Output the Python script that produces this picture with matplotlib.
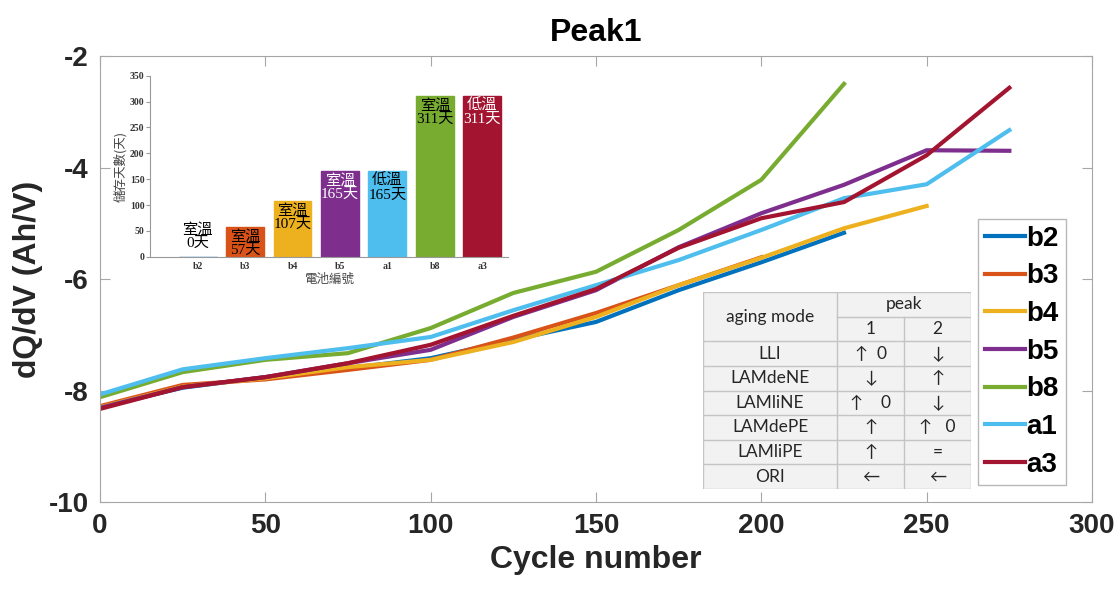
import matplotlib
matplotlib.use("Agg")
import matplotlib.pyplot as plt
from matplotlib.patches import Rectangle

plt.rcParams['axes.unicode_minus'] = False

# ----- main curves (dQ/dV at peak 1 vs cycle) -----
cycles = [0, 25, 50, 75, 100, 125, 150, 175, 200, 225, 250, 275]
b2 = [-8.30, -7.95, -7.76, -7.60, -7.42, -7.09, -6.77, -6.20, -5.70, -5.17]
b3 = [-8.28, -7.90, -7.80, -7.63, -7.45, -7.05, -6.61, -6.11, -5.61]
b4 = [-8.30, -7.93, -7.78, -7.58, -7.45, -7.13, -6.68, -6.11, -5.62, -5.09, -4.69]
b5 = [-8.31, -7.94, -7.76, -7.51, -7.27, -6.68, -6.20, -5.43, -4.82, -4.31, -3.69, -3.70]
b8 = [-8.12, -7.67, -7.45, -7.33, -6.88, -6.25, -5.87, -5.12, -4.22, -2.50]
a1 = [-8.07, -7.62, -7.42, -7.24, -7.04, -6.56, -6.11, -5.66, -5.12, -4.55, -4.30, -3.33]
a3 = [-8.33, -7.94, -7.76, -7.51, -7.18, -6.66, -6.18, -5.44, -4.91, -4.62, -3.78, -2.57]

names = ['b2', 'b3', 'b4', 'b5', 'b8', 'a1', 'a3']
curves = [b2, b3, b4, b5, b8, a1, a3]
colors = {'b2': '#0072BD', 'b3': '#D95319', 'b4': '#EDB120', 'b5': '#7E2F8E',
          'b8': '#77AC30', 'a1': '#4DBEEE', 'a3': '#A2142F'}

# ----- inset bar chart (storage days) -----
cells = ['b2', 'b3', 'b4', 'b5', 'a1', 'b8', 'a3']
days = [0, 57, 107, 165, 165, 311, 311]
temps = ['室溫', '室溫', '室溫', '室溫', '低溫', '室溫', '低溫']

# ----- aging mode table -----
modes = ['LLI', 'LAMdeNE', 'LAMliNE', 'LAMdePE', 'LAMliPE', 'ORI']
peak1 = ['↑  0', '↓', '↑    0', '↑', '↑', '←']
peak2 = ['↓', '↑', '↓', '↑   0', '=', '←']

fig = plt.figure(figsize=(11.2, 5.96), dpi=100)
ax = fig.add_axes([0.0893, 0.1577, 0.8857, 0.7483])

for name, vals in zip(names, curves):
    ax.plot(cycles[:len(vals)], vals, color=colors[name], lw=3, label=name)

ax.set_xlim(0, 300)
ax.set_ylim(-10, -2)
ax.set_xticks(range(0, 301, 50))
ax.set_yticks(range(-10, -1, 2))
for s in ax.spines.values():
    s.set_color('#a6a6a6')
ax.tick_params(direction='in', length=7, top=True, right=True, color='#a6a6a6',
               labelsize=20, labelcolor='#262626', pad=8)
for lbl in ax.get_xticklabels() + ax.get_yticklabels():
    lbl.set_fontweight('bold')
    lbl.set_family('Liberation Sans')
ax.set_xlabel('Cycle number', fontsize=23, fontweight='bold', family='Liberation Sans',
              color='#262626', labelpad=4)
ax.set_ylabel('dQ/dV (Ah/V)', fontsize=23, fontweight='bold', family='Liberation Sans',
              color='#262626', labelpad=4)
ax.set_title('Peak1', fontsize=23, fontweight='bold', family='Liberation Sans', pad=11)

leg = ax.legend(loc='upper left', bbox_to_anchor=(0.885, 0.635), frameon=True,
                fancybox=False, edgecolor='#a6a6a6',
                prop={'family': 'Liberation Sans', 'weight': 'bold', 'size': 20},
                handlelength=1.45, handletextpad=0.05, labelspacing=0.42,
                borderpad=0.25, borderaxespad=0)
leg.get_frame().set_linewidth(1)
for h in leg.get_lines():
    h.set_linewidth(3)

# inset
ax_in = fig.add_axes([0.134, 0.569, 0.32, 0.304])
xpos = list(range(1, len(cells) + 1))
ax_in.bar(xpos, days, width=0.8, color=[colors[c] for c in cells],
          edgecolor=[colors[c] for c in cells], linewidth=1)
ax_in.set_xlim(0, 7.55)
ax_in.set_ylim(0, 350)
ax_in.set_yticks(range(0, 351, 50))
ax_in.set_xticks(xpos)
ax_in.set_xticklabels(cells)
ax_in.spines['top'].set_visible(False)
ax_in.spines['right'].set_visible(False)
ax_in.spines['left'].set_color('#999999')
ax_in.spines['bottom'].set_color('#999999')
ax_in.tick_params(axis='y', direction='out', length=3, color='#999999', labelsize=7, pad=1)
ax_in.tick_params(axis='x', length=0, labelsize=7, pad=4)
for lbl in ax_in.get_xticklabels() + ax_in.get_yticklabels():
    lbl.set_fontweight('bold')
    lbl.set_family('Liberation Serif')
    lbl.set_color('#333333')
ax_in.set_ylabel('儲存天數(天)', family='Noto Sans CJK TC', fontsize=9, color='#444444', labelpad=2)
ax_in.set_xlabel('電池編號', family='Noto Sans CJK TC', fontsize=9, color='#444444', labelpad=1)
for x, d, t, c in zip(xpos, days, temps, cells):
    tc = 'white' if c in ('b5', 'a3') else 'black'
    ytop = d - 5 if d > 20 else 66
    ax_in.text(x, ytop, t + '\n' + str(d) + '天', ha='center', va='top', color=tc,
               fontsize=11, linespacing=1.0, family=['Liberation Serif', 'Noto Sans CJK TC'])

# table
ax_t = fig.add_axes([0.6277, 0.1795, 0.2393, 0.3305])
ax_t.set_xlim(0, 4)
ax_t.set_ylim(8, 0)
ax_t.axis('off')
ax_t.add_patch(Rectangle((0, 0), 4, 8, facecolor='#f2f2f2', edgecolor='none'))
lc = '#c4c4c4'
for r in range(9):
    x0 = 2 if r == 1 else 0
    ax_t.plot([x0, 4], [r, r], color=lc, lw=1)
ax_t.plot([0, 0], [0, 8], color=lc, lw=1)
ax_t.plot([2, 2], [0, 8], color=lc, lw=1)
ax_t.plot([4, 4], [0, 8], color=lc, lw=1)
ax_t.plot([3, 3], [1, 8], color=lc, lw=1)
tf = ['Lato', 'DejaVu Sans']
ts = 12.5
ax_t.text(1, 1, 'aging mode', ha='center', va='center', fontsize=ts, family=tf, color='#262626')
ax_t.text(3, 0.5, 'peak', ha='center', va='center', fontsize=ts, family=tf, color='#262626')
ax_t.text(2.5, 1.5, '1', ha='center', va='center', fontsize=ts, family=tf, color='#262626')
ax_t.text(3.5, 1.5, '2', ha='center', va='center', fontsize=ts, family=tf, color='#262626')
for i, (m, p1, p2) in enumerate(zip(modes, peak1, peak2)):
    y = 2.5 + i
    ax_t.text(1, y, m, ha='center', va='center', fontsize=ts, family=tf, color='#262626')
    ax_t.text(2.5, y, p1, ha='center', va='center', fontsize=ts, family=tf, color='#262626')
    ax_t.text(3.5, y, p2, ha='center', va='center', fontsize=ts, family=tf, color='#262626')

fig.savefig('out.png', dpi=100)
